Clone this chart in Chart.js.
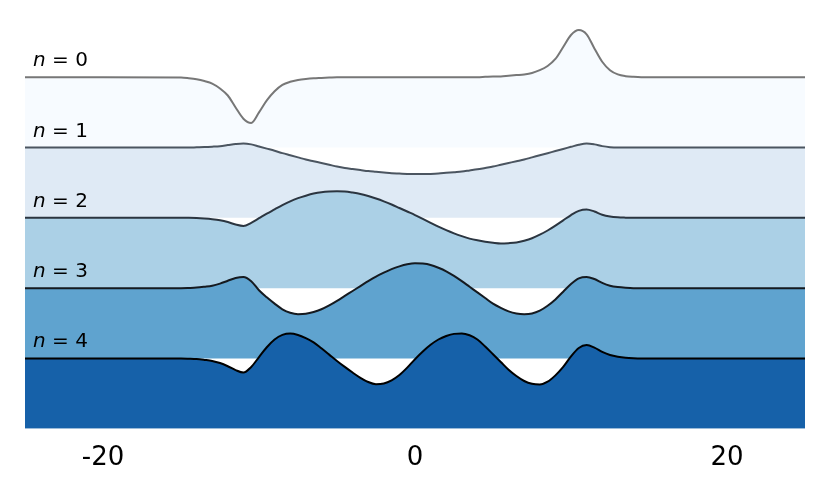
<!DOCTYPE html>
<html>
<head>
<meta charset="utf-8">
<script src="https://cdn.jsdelivr.net/npm/chart.js@4/dist/chart.umd.min.js"></script>
<style>
  html, body { margin: 0; padding: 0; background: #fff; }
  canvas { display: block; }
</style>
</head>
<body>
<canvas id="chart" width="830" height="498"></canvas>
<script>
// x positions shared by all curves
const xs = [-25, -20,
    -15, -14.5, -14, -13.5, -13, -12.5, -12, -11.5, -11, -10.5,
    -10, -9.5, -9, -8.5, -8, -7.5, -7, -6.5, -6, -5.5,
    -5, -4.5, -4, -3.5, -3, -2.5, -2, -1.5, -1, -0.5,
    0, 0.5, 1, 1.5, 2, 2.5, 3, 3.5, 4, 4.5,
    5, 5.5, 6, 6.5, 7, 7.5, 8, 8.5, 9, 9.5,
    10, 10.5, 11, 11.5, 12, 12.5, 13, 13.5, 14, 14.5,
    15, 20, 25];

// deviation of each curve from its own baseline (1 unit = gap between baselines)
const psi0 = [0, 0,
    -0.005, -0.015, -0.03, -0.055, -0.09, -0.16, -0.26, -0.43, -0.59, -0.65,
    -0.50, -0.33, -0.20, -0.11, -0.065, -0.04, -0.025, -0.015, -0.01, -0.005,
    0, 0, 0, 0, 0, 0, 0, 0, 0, 0,
    0, 0, 0, 0, 0, 0, 0, 0, 0, 0.005,
    0.01, 0.01, 0.02, 0.03, 0.04, 0.06, 0.10, 0.16, 0.26, 0.43,
    0.60, 0.67, 0.61, 0.41, 0.22, 0.10, 0.04, 0.015, 0.005, 0,
    0, 0, 0];
const psi1 = [0, 0,
    0, 0, 0.003, 0.006, 0.012, 0.02, 0.035, 0.05, 0.058, 0.045,
    0.015, -0.015, -0.045, -0.08, -0.11, -0.14, -0.17, -0.195, -0.22, -0.245,
    -0.27, -0.29, -0.305, -0.32, -0.335, -0.345, -0.355, -0.365, -0.37, -0.375,
    -0.378, -0.377, -0.375, -0.37, -0.36, -0.35, -0.34, -0.325, -0.31, -0.29,
    -0.27, -0.245, -0.22, -0.195, -0.17, -0.14, -0.11, -0.08, -0.05, -0.02,
    0.01, 0.04, 0.058, 0.045, 0.02, 0.005, 0, 0, 0, 0,
    0, 0, 0];
const psi2 = [0, 0,
    0, 0, -0.003, -0.01, -0.02, -0.035, -0.06, -0.095, -0.115, -0.07,
    -0.005, 0.06, 0.12, 0.18, 0.235, 0.28, 0.315, 0.345, 0.365, 0.375,
    0.378, 0.375, 0.36, 0.34, 0.31, 0.275, 0.235, 0.19, 0.14, 0.09,
    0.04, -0.015, -0.07, -0.125, -0.175, -0.22, -0.26, -0.295, -0.32, -0.34,
    -0.355, -0.365, -0.36, -0.35, -0.325, -0.29, -0.24, -0.18, -0.11, -0.035,
    0.04, 0.10, 0.12, 0.09, 0.045, 0.02, 0.008, 0.003, 0, 0,
    0, 0, 0];
const psi3 = [0, 0,
    0, 0.003, 0.008, 0.02, 0.035, 0.065, 0.105, 0.145, 0.16, 0.10,
    -0.03, -0.13, -0.22, -0.30, -0.35, -0.37, -0.365, -0.34, -0.30, -0.245,
    -0.18, -0.11, -0.04, 0.03, 0.10, 0.165, 0.22, 0.27, 0.31, 0.34,
    0.355, 0.35, 0.33, 0.29, 0.24, 0.175, 0.10, 0.02, -0.06, -0.14,
    -0.22, -0.28, -0.33, -0.36, -0.37, -0.36, -0.32, -0.25, -0.16, -0.05,
    0.06, 0.14, 0.16, 0.13, 0.075, 0.035, 0.015, 0.005, 0, 0,
    0, 0, 0];
const psi4 = [0, 0,
    0, -0.003, -0.008, -0.02, -0.035, -0.065, -0.11, -0.165, -0.20, -0.12,
    0.02, 0.16, 0.27, 0.335, 0.355, 0.335, 0.29, 0.23, 0.145, 0.055,
    -0.035, -0.12, -0.20, -0.275, -0.335, -0.365, -0.355, -0.31, -0.235, -0.13,
    -0.01, 0.10, 0.195, 0.27, 0.32, 0.35, 0.355, 0.33, 0.27, 0.17,
    0.06, -0.05, -0.16, -0.25, -0.32, -0.36, -0.37, -0.33, -0.24, -0.12,
    0.03, 0.15, 0.19, 0.155, 0.095, 0.05, 0.025, 0.01, 0.003, 0,
    0, 0, 0];

const levels = [0, 1, 2, 3, 4];
const curves = [psi0, psi1, psi2, psi3, psi4];
const tickValues = [-20, 0, 20];

const fillColors = ['#f7fbff', '#dfeaf5', '#abd0e6', '#5fa3cf', '#1661a9'];
const lineColors = ['#777777', '#4b5560', '#2b3540', '#151a20', '#000000'];

const topLevel = levels.length - 1;

const datasets = levels.map((n, i) => {
    const base = topLevel - n;
    return {
        label: 'n = ' + n,
        data: xs.map((x, j) => ({ x: x, y: base + curves[i][j] })),
        borderColor: lineColors[i],
        backgroundColor: fillColors[i],
        borderWidth: 2,
        pointRadius: 0,
        cubicInterpolationMode: 'monotone',
        fill: { value: base - 1 },
        order: topLevel - n,
        clip: 4
    };
});

// "n = k" labels above each baseline
const levelLabels = {
    id: 'levelLabels',
    afterDraw(chart) {
        const ctx = chart.ctx;
        const yScale = chart.scales.y;
        const left = chart.chartArea.left + 8;
        ctx.save();
        ctx.fillStyle = '#000';
        ctx.textBaseline = 'alphabetic';
        levels.forEach(n => {
            const y = yScale.getPixelForValue(topLevel - n) - 11;
            ctx.font = 'italic 20px "DejaVu Sans"';
            ctx.fillText('n', left, y);
            const w = ctx.measureText('n').width;
            ctx.font = '20px "DejaVu Sans"';
            ctx.fillText(' = ' + n, left + w, y);
        });
        ctx.restore();
    }
};

new Chart(document.getElementById('chart'), {
    type: 'line',
    data: { datasets: datasets },
    options: {
        responsive: false,
        animation: false,
        layout: { padding: { left: 25, right: 25, top: 28, bottom: 10 } },
        plugins: {
            legend: { display: false },
            tooltip: { enabled: false }
        },
        scales: {
            x: {
                type: 'linear',
                min: -25,
                max: 25,
                grid: { display: false, drawTicks: false },
                border: { display: false },
                afterBuildTicks: scale => {
                    scale.ticks = tickValues.map(v => ({ value: v }));
                },
                ticks: {
                    padding: 14,
                    color: '#000',
                    font: { family: '"DejaVu Sans"', size: 26 },
                    callback: v => String(v)
                }
            },
            y: {
                type: 'linear',
                display: false,
                min: -1,
                max: 4.7
            }
        }
    },
    plugins: [levelLabels]
});
</script>
</body>
</html>
